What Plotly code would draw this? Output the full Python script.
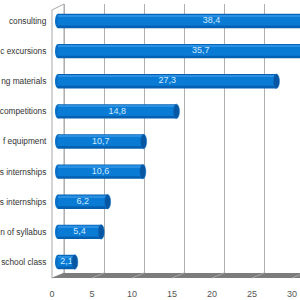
import plotly.graph_objects as go

# data (bottom to top)
categories = ["school class", "n of syllabus", "s internships", "s internships",
              "f equipment", "competitions", "ng materials", "c excursions", "consulting"]
values = [2.1, 5.4, 6.2, 10.6, 10.7, 14.8, 27.3, 35.7, 38.4]
tick_values = [0, 5, 10, 15, 20, 25, 30]

W = H = 300
idx = list(range(len(categories)))
labels = [f"{v:.1f}".replace(".", ",") for v in values]

def P(x, y):
    return f"{x / W:.5f},{1 - y / H:.5f}"

fig = go.Figure()

# cylinder body (shaded bands)
fig.add_trace(go.Bar(x=values, y=idx, orientation="h", xaxis="x2", yaxis="y",
                     width=0.48, marker=dict(color="#0660b2", line=dict(width=0)),
                     hoverinfo="skip", showlegend=False))
fig.add_trace(go.Bar(x=values, y=idx, orientation="h", xaxis="x2", yaxis="y",
                     width=0.36, offset=-0.15, marker=dict(color="#0a7bd4", line=dict(width=0)),
                     hoverinfo="skip", showlegend=False))
fig.add_trace(go.Bar(x=values, y=idx, orientation="h", xaxis="x2", yaxis="y",
                     width=0.05, offset=0.15, marker=dict(color="#2c90e2", line=dict(width=0)),
                     hoverinfo="skip", showlegend=False))

# value labels
fig.add_trace(go.Scatter(x=[v / 2 for v in values], y=idx, xaxis="x2", yaxis="y",
                         mode="text", text=labels,
                         textfont=dict(family="Liberation Sans", size=9, color="#cfeaff"),
                         hoverinfo="skip", showlegend=False))

shapes = []
# left wall and floor
shapes.append(dict(type="path", xref="paper", yref="paper",
                   path=f"M{P(52,278)} L{P(52,10)} L{P(64,4)} L{P(64,273)} Z",
                   fillcolor="#ffffff", line=dict(color="#a8a8a8", width=1), layer="below"))
shapes.append(dict(type="path", xref="paper", yref="paper",
                   path=f"M{P(52,278)} L{P(300,278)} L{P(300,273)} L{P(64,273)} Z",
                   fillcolor="#7c7c7c", line=dict(width=0), layer="below"))
for t in tick_values[1:]:
    shapes.append(dict(type="line", xref="x", yref="paper", x0=t, x1=t - 1.5,
                       y0=1 - 273 / H, y1=1 - 278 / H,
                       line=dict(color="#a6a6a6", width=1), layer="below"))

# rounded left ends and end caps of the cylinders
for i, v in zip(idx, values):
    shapes.append(dict(type="circle", xref="x2", yref="y", x0=-0.375, x1=0.375,
                       y0=i - 0.24, y1=i + 0.24, fillcolor="#0870c8",
                       line=dict(width=0), layer="below"))
    shapes.append(dict(type="circle", xref="x2", yref="y", x0=v - 0.375, x1=v + 0.375,
                       y0=i - 0.24, y1=i + 0.24, fillcolor="#0656a2",
                       line=dict(color="#0a6ec4", width=0.6), layer="above"))

fig.update_layout(
    width=W, height=H, margin=dict(l=0, r=0, t=0, b=0, autoexpand=False),
    paper_bgcolor="white", plot_bgcolor="white",
    barmode="overlay", showlegend=False, shapes=shapes,
    xaxis=dict(domain=[52 / W, 1], range=[-1.5, 29.5], showgrid=True, dtick=5, tick0=0,
               gridcolor="#b0b0b0", gridwidth=1, zeroline=False, automargin=False,
               showticklabels=False, showline=False, fixedrange=True),
    xaxis2=dict(overlaying="x", range=[-0.75, 30.25], visible=False, fixedrange=True,
                automargin=False),
    xaxis3=dict(overlaying="x", range=[0, 31], tickvals=tick_values, showgrid=False,
                zeroline=False, showline=False, ticks="outside", ticklen=12,
                tickcolor="rgba(0,0,0,0)", automargin=False,
                tickfont=dict(family="Liberation Sans", size=9, color="#555555"),
                fixedrange=True),
    yaxis=dict(domain=[1 - 273 / H, 1 - 4 / H], range=[-0.365, 8.564],
               tickvals=idx, ticktext=categories, showgrid=False, zeroline=False,
               showline=False, ticks="outside", ticklen=3, tickcolor="rgba(0,0,0,0)",
               automargin=False,
               tickfont=dict(family="Liberation Sans", size=8.3, color="#333333"),
               fixedrange=True),
)
# dummy trace to activate xaxis3
fig.add_trace(go.Scatter(x=[0], y=[-10], xaxis="x3", yaxis="y", mode="markers",
                         marker=dict(opacity=0), hoverinfo="skip", showlegend=False))

fig.write_html("out.html")
